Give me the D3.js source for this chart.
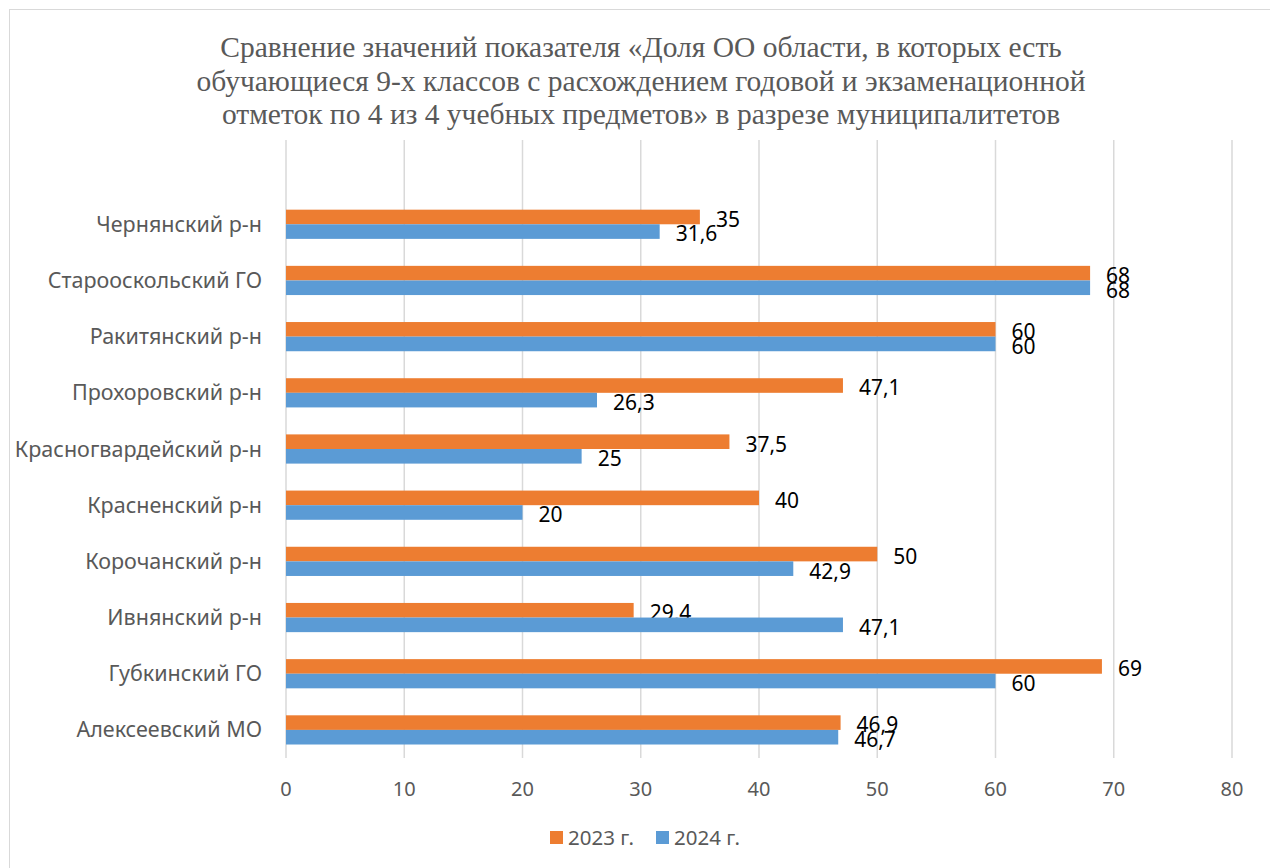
<!DOCTYPE html>
<meta charset="utf-8">
<script src="https://d3js.org/d3.v7.min.js"></script>
<style>
body { margin: 0; background: #fff; }
text { font-family: "Noto Sans", "Open Sans", sans-serif; }
.title { font-family: "Liberation Serif", "DejaVu Serif", serif; fill: #595959; font-size: 29.5px; }
</style>
<div id="my_dataviz"></div>
<script>

// data, bottom to top as in the picture
var categories = ["Алексеевский МО", "Губкинский ГО", "Ивнянский р-н", "Корочанский р-н",
  "Красненский р-н", "Красногвардейский р-н", "Прохоровский р-н", "Ракитянский р-н",
  "Старооскольский ГО", "Чернянский р-н"];
var values2023 = [46.9, 69, 29.4, 50, 40, 37.5, 47.1, 60, 68, 35];
var values2024 = [46.7, 60, 47.1, 42.9, 20, 25, 26.3, 60, 68, 31.6];
var seriesNames = ["2023 г.", "2024 г."];
var xTicks = [0, 10, 20, 30, 40, 50, 60, 70, 80];
var titleLines = [
  "Сравнение значений показателя «Доля ОО области, в которых есть",
  "обучающиеся 9-х классов с расхождением годовой и экзаменационной",
  "отметок по 4 из 4 учебных предметов» в разрезе муниципалитетов"
];

var width = 1270, height = 868;
var colors = ["#ED7D31", "#5B9BD5"];
var fmt = function(v) { return String(v).replace(".", ","); };

var svg = d3.select("#my_dataviz")
  .append("svg")
    .attr("width", width)
    .attr("height", height);

// outer frame
svg.append("rect")
  .attr("x", 9.5).attr("y", 9.5)
  .attr("width", width).attr("height", height)
  .attr("fill", "none").attr("stroke", "#d9d9d9");

// title
svg.append("g").selectAll("text")
  .data(titleLines)
  .enter().append("text")
    .attr("class", "title")
    .attr("x", 641)
    .attr("y", function(d, i) { return 57 + i * 33.5; })
    .attr("text-anchor", "middle")
    .text(function(d) { return d; });

var plot = {left: 286, right: 1232, top: 140, bottom: 758};

var x = d3.scaleLinear()
  .domain([0, 80])
  .range([plot.left, plot.right]);

// one empty slot on top, like the source chart
var y = d3.scaleBand()
  .domain(categories.concat([""]))
  .range([plot.bottom, plot.top])
  .paddingInner(0)
  .paddingOuter(0);

var barH = 14.6;

// gridlines
svg.append("g").selectAll("line")
  .data(xTicks)
  .enter().append("line")
    .attr("x1", function(d) { return x(d); })
    .attr("x2", function(d) { return x(d); })
    .attr("y1", plot.top)
    .attr("y2", plot.bottom)
    .attr("stroke", "#d9d9d9")
    .attr("stroke-width", 1.5);

// x tick labels
svg.append("g").selectAll("text")
  .data(xTicks)
  .enter().append("text")
    .attr("x", function(d) { return x(d); })
    .attr("y", 789)
    .attr("dy", "0.35em")
    .attr("text-anchor", "middle")
    .attr("fill", "#595959")
    .style("font-size", "20px")
    .text(function(d) { return d; });

// category labels
svg.append("g").selectAll("text")
  .data(categories)
  .enter().append("text")
    .attr("x", 262)
    .attr("y", function(d) { return y(d) + y.bandwidth() / 2; })
    .attr("dy", "0.35em")
    .attr("text-anchor", "end")
    .attr("fill", "#595959")
    .style("font-size", "21.5px")
    .text(function(d) { return d; });

var series = [values2023, values2024];

series.forEach(function(vals, s) {
  var g = svg.append("g");
  var rows = categories.map(function(c, i) { return {cat: c, v: vals[i]}; });

  g.selectAll("rect")
    .data(rows)
    .enter().append("rect")
      .attr("x", x(0))
      .attr("y", function(d) { return y(d.cat) + y.bandwidth() / 2 - barH + s * barH; })
      .attr("width", function(d) { return x(d.v) - x(0); })
      .attr("height", barH)
      .attr("fill", colors[s]);

  g.selectAll("text")
    .data(rows)
    .enter().append("text")
      .attr("x", function(d) { return x(d.v) + 16; })
      .attr("y", function(d) { return y(d.cat) + y.bandwidth() / 2 - barH / 2 + s * barH + 2.5; })
      .attr("dy", "0.35em")
      .attr("fill", "#000")
      .style("font-size", "21px")
      .text(function(d) { return fmt(d.v); });
});

// legend
var legend = svg.append("g");
var legendX = [550, 656];
seriesNames.forEach(function(name, i) {
  legend.append("rect")
    .attr("x", legendX[i]).attr("y", 831)
    .attr("width", 13).attr("height", 13)
    .attr("fill", colors[i]);
  legend.append("text")
    .attr("x", legendX[i] + 18).attr("y", 838)
    .attr("dy", "0.35em")
    .attr("fill", "#595959")
    .style("font-size", "20.5px")
    .text(name);
});

</script>
